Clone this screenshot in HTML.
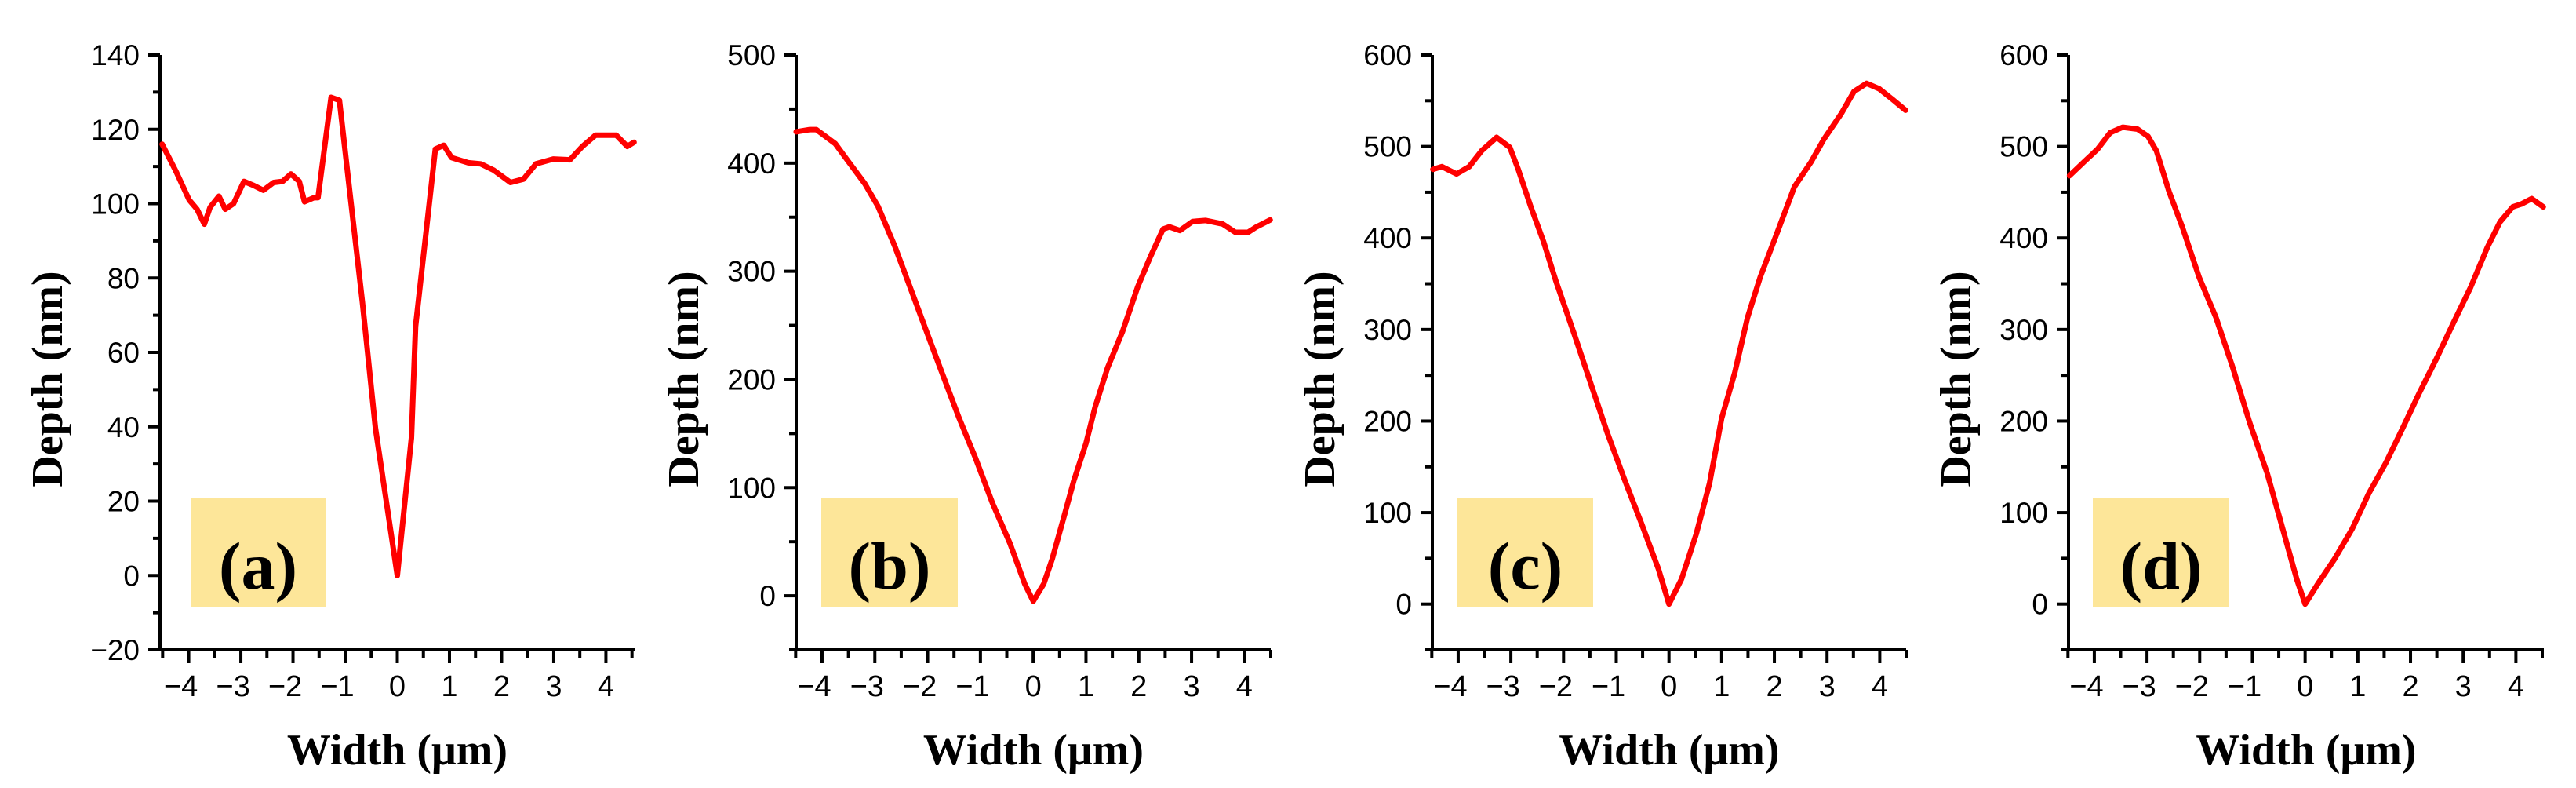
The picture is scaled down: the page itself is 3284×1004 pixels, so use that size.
<!DOCTYPE html>
<html><head><meta charset="utf-8"><style>
html,body{margin:0;padding:0;background:#fff;}
svg{display:block;}
</style></head><body>
<svg id="chart" width="3284" height="1004" viewBox="0 0 3284 1004" xmlns="http://www.w3.org/2000/svg"></svg>
<script>
const xTicks = [-4,-3,-2,-1,0,1,2,3,4];
const panelLabels = ["(a)","(b)","(c)","(d)"];
const yMinA = -20, yMaxA = 140, yStepA = 20;
const yMinB = -50, yMaxB = 500, yStepB = 100;
const yMinC = -50, yMaxC = 600, yStepC = 100;
const yMinD = -50, yMaxD = 600, yStepD = 100;
const xA = [-4.51,-4.24,-3.99,-3.84,-3.7,-3.59,-3.42,-3.3,-3.14,-2.94,-2.77,-2.57,-2.37,-2.2,-2.04,-1.88,-1.78,-1.6,-1.52,-1.27,-1.11,-0.91,-0.67,-0.42,0,0.27,0.35,0.73,0.89,1.04,1.36,1.6,1.85,2.17,2.42,2.66,2.99,3.31,3.55,3.8,4.2,4.41,4.54];
const yA = [116,108.6,101,98.5,94.5,99,102,98.5,100,106,105,103.6,105.7,106,108,106,100.5,101.6,101.6,128.6,127.8,103,73.5,39.7,0,37,67,114.7,115.7,112.4,111,110.7,109,105.7,106.6,110.7,112,111.8,115.4,118.4,118.4,115.4,116.5];
const xB = [-4.49,-4.23,-4.11,-3.75,-3.51,-3.19,-2.94,-2.62,-2.3,-1.98,-1.73,-1.41,-1.09,-0.77,-0.44,-0.16,0,0.2,0.36,0.6,0.77,1.0,1.17,1.41,1.69,1.98,2.22,2.46,2.58,2.78,3.02,3.27,3.59,3.83,4.07,4.23,4.49];
const yB = [429,431,431,418,402,381,360,323,281,239,206.5,165,127,85.6,48.4,11,-5,11,34,76,106.5,141,174,211,244,285.6,313.5,339,341,337.7,346,347,343.7,336,336,341,347.4];
const xC = [-4.48,-4.31,-4.03,-3.79,-3.55,-3.27,-3.02,-2.86,-2.62,-2.38,-2.14,-1.81,-1.49,-1.17,-0.85,-0.52,-0.2,0,0.24,0.52,0.77,1.0,1.25,1.49,1.73,2.06,2.38,2.7,2.94,3.27,3.51,3.75,3.99,4.23,4.49];
const yC = [475,478,470,478,495.6,510,499,475,434,396,352,297,242,187,137,88,38.5,0,27.5,77,132,203,253,313,357,407,456,483.5,508,536,560,569,563,552,539.6];
const xD = [-4.47,-4.19,-3.94,-3.7,-3.46,-3.18,-2.98,-2.82,-2.58,-2.33,-2.01,-1.69,-1.37,-1.05,-0.72,-0.4,-0.16,0,0.24,0.56,0.89,1.21,1.53,1.85,2.17,2.5,2.82,3.14,3.46,3.7,3.94,4.1,4.3,4.52];
const yD = [468,483.5,497,515,521,519,511,495,450.5,412,357,313,258,198,143,77,27.5,0,22,49.5,82,121,154,192,231,269,308,346,390,417.6,434,437,443,434];

const NS = "http://www.w3.org/2000/svg";
const svg = document.getElementById("chart");
function mk(tag, attrs, parent){const e=document.createElementNS(NS,tag);for(const k in attrs)e.setAttribute(k,attrs[k]);(parent||svg).appendChild(e);return e;}

const panels = [
 {x0:204,x1:809,xmin:-4.55,xmax:4.55,ymin:yMinA,ymax:yMaxA,step:yStepA,xs:xA,ys:yA,box:[243,415]},
 {x0:1015,x1:1620,xmin:-4.49,xmax:4.5,ymin:yMinB,ymax:yMaxB,step:yStepB,xs:xB,ys:yB,box:[1047,1221]},
 {x0:1826,x1:2430,xmin:-4.49,xmax:4.5,ymin:yMinC,ymax:yMaxC,step:yStepC,xs:xC,ys:yC,box:[1858,2031]},
 {x0:2637,x1:3243,xmin:-4.49,xmax:4.53,ymin:yMinD,ymax:yMaxD,step:yStepD,xs:xD,ys:yD,box:[2668,2842]}
];
const yTop=70, yBot=828;

panels.forEach((p,i)=>{
  const g = mk("g",{});
  
  
  const sx = v => p.x0 + (v-p.xmin)/(p.xmax-p.xmin)*(p.x1-p.x0);
  const sy = v => yBot - (v-p.ymin)/(p.ymax-p.ymin)*(yBot-yTop);
  // label box
  const box = mk("rect",{x:p.box[0],y:634,width:p.box[1]-p.box[0],height:139,fill:"#fde699"},g);
  
  
  const lt = mk("text",{x:(p.box[0]+p.box[1])/2,y:750,"text-anchor":"middle","font-family":"Liberation Serif, serif","font-weight":"bold","font-size":"86"},g);
  lt.textContent = panelLabels[i];
  
  
  // axes
  const ax = mk("path",{d:`M${p.x0},${yTop} V${yBot} H${p.x1}`,fill:"none",stroke:"#000","stroke-width":4},g);
  
  
  // y ticks
  for(let v=Math.ceil(p.ymin/(p.step/2))*(p.step/2); v<=p.ymax+1e-9; v+=p.step/2){
    const major = Math.abs(Math.round(v/p.step)*p.step - v) < 1e-6;
    const y = sy(v);
    const t = mk("line",{x1:p.x0,x2:p.x0-(major?15:9),y1:y,y2:y,stroke:"#000","stroke-width":4},g);
    
    
    if(major){
      const tl = mk("text",{x:p.x0-26,y:y+13,"text-anchor":"end","font-family":"Liberation Sans, sans-serif","font-size":"37"},g);
      tl.textContent = (v<0?"\u2212":"")+Math.abs(v);
      
      
    }
  }
  // x ticks
  for(let v=-4.5; v<=4.5+1e-9; v+=0.5){
    const major = Math.abs(v-Math.round(v))<1e-6;
    const x = sx(v);
    const t = mk("line",{x1:x,x2:x,y1:yBot,y2:yBot+(major?17:10),stroke:"#000","stroke-width":4},g);
    
    
  }
  xTicks.forEach(v=>{
    const tl = mk("text",{x:sx(v)-(v<0?10:0),y:887,"text-anchor":"middle","font-family":"Liberation Sans, sans-serif","font-size":"38"},g);
    tl.textContent = (v<0?"\u2212":"")+Math.abs(v);
    
    
  });
  // titles
  const xt = mk("text",{x:(p.x0+p.x1)/2,y:974,"text-anchor":"middle","font-family":"Liberation Serif, serif","font-weight":"bold","font-size":"56"},g);
  xt.textContent = "Width (\u03bcm)";
  
  
  const cx = p.x0-144, cy = 483;
  const yt = mk("text",{x:cx,y:cy+19,"text-anchor":"middle","font-family":"Liberation Serif, serif","font-weight":"bold","font-size":"56",transform:`rotate(-90 ${cx} ${cy})`},g);
  yt.textContent = "Depth (nm)";
  
  
  // curve
  const d = p.xs.map((x,k)=>(k?"L":"M")+sx(x).toFixed(1)+","+sy(p.ys[k]).toFixed(1)).join(" ");
  const line = mk("path",{d:d,fill:"none",stroke:"#ff0000","stroke-width":7,"stroke-linejoin":"round","stroke-linecap":"round"},g);
  
  
});
</script>
</body></html>
